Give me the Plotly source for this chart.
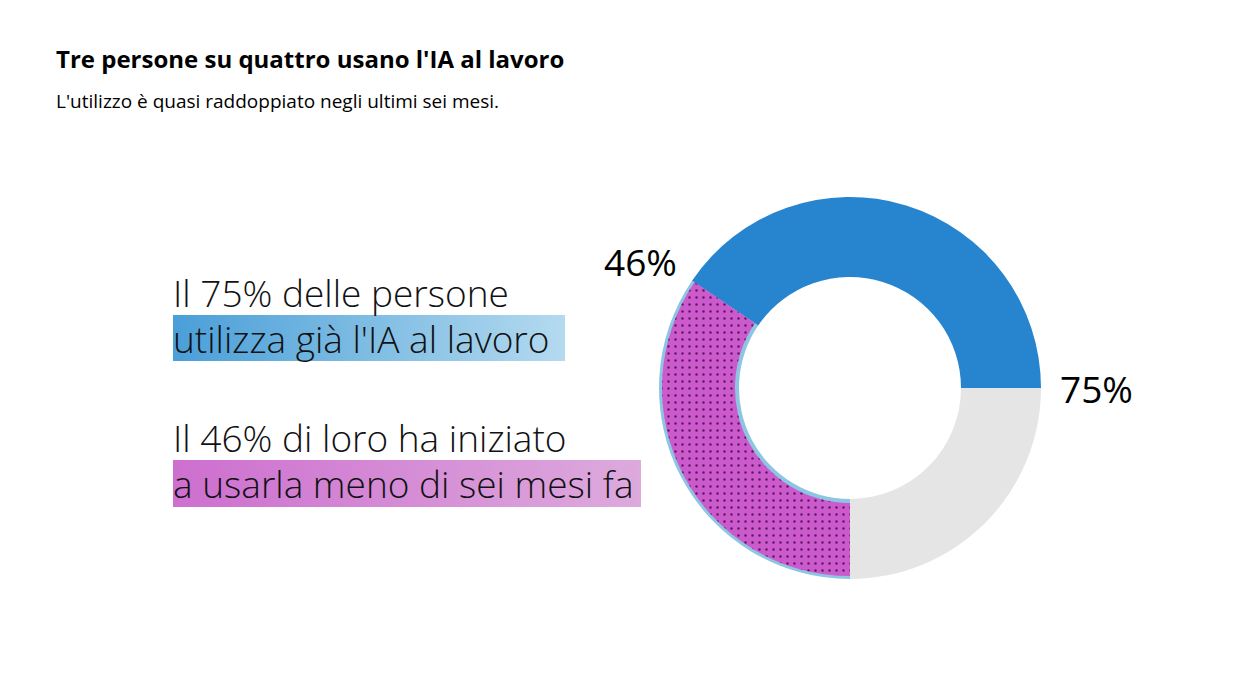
import plotly.graph_objects as go

# ---- data ----
share_using = 75          # % of people using AI at work
share_recent = 46         # % of those who started less than six months ago
slice_labels = ["Nuovi utenti", "Utenti da più tempo", "Non utenti"]
title_text = "Tre persone su quattro usano l'IA al lavoro"
subtitle_text = "L'utilizzo è quasi raddoppiato negli ultimi sei mesi."
line1a = "Il 75% delle persone"
line1b = "utilizza già l'IA al lavoro"
line2a = "Il 46% di loro ha iniziato"
line2b = "a usarla meno di sei mesi fa"

recent = share_using * share_recent / 100.0
older = share_using - recent
nonusers = 100 - share_using

W, H = 1233, 678
cx, cy = 850, 388
R_out, R_in = 191, 111
r_out, r_in = 188, 115

def dom(r):
    return dict(x=[(cx - r) / W, (cx + r) / W],
                y=[(H - cy - r) / H, (H - cy + r) / H])

fig = go.Figure()

# gradient highlight boxes (pixel coordinates on hidden axes)
def box(x0, x1, y0, y1, c0, c1):
    fig.add_trace(go.Scatter(
        x=[x0, x1, x1, x0, x0], y=[y0, y0, y1, y1, y0],
        mode="lines", line=dict(width=0), fill="toself",
        fillgradient=dict(type="horizontal", colorscale=[[0, c0], [1, c1]]),
        hoverinfo="skip", showlegend=False))

box(173, 565, 315, 361, "#4a9fd8", "#b4daef")
box(173, 641, 460, 507, "#cd6fcf", "#ddaadd")

# outer donut
fig.add_trace(go.Pie(
    values=[recent, older, nonusers], labels=slice_labels,
    sort=False, direction="clockwise", rotation=180,
    hole=R_in / R_out, domain=dom(R_out),
    marker=dict(colors=["#8cc6e3", "#2785cf", "#e5e5e5"], line=dict(width=0)),
    textinfo="none", showlegend=False, hoverinfo="label+value"))

# inset magenta slice with dot pattern
fig.add_trace(go.Pie(
    values=[recent, 100 - recent], labels=["Nuovi utenti ", "altro"],
    sort=False, direction="clockwise", rotation=180,
    hole=r_in / r_out, domain=dom(r_out),
    marker=dict(colors=["#cc5acc", "rgba(0,0,0,0)"], line=dict(width=0),
                pattern=dict(shape=[".", ""], fgcolor="#5a1a5e", bgcolor=["#cc5acc", "rgba(0,0,0,0)"],
                             size=7, solidity=0.1)),
    textinfo="none", showlegend=False, hoverinfo="skip"))

font = "Open Sans, Noto Sans, sans-serif"
ann = []
ann.append(dict(x=54, y=58, text="<b>" + title_text + "</b>", xanchor="left", yanchor="middle",
                font=dict(family=font, size=24, color="#000")))
ann.append(dict(x=54, y=101, text=subtitle_text, xanchor="left", yanchor="middle",
                font=dict(family=font, size=19, color="#000")))
for txt, y in [(line1a, 292), (line1b, 338), (line2a, 437), (line2b, 483)]:
    ann.append(dict(x=171, y=y, text=txt, xanchor="left", yanchor="middle",
                    font=dict(family=font, size=37, color="#111", weight=300)))
ann.append(dict(x=640, y=261, text=f"{share_recent}%", xanchor="center", yanchor="middle",
                font=dict(family=font, size=37, color="#000")))
ann.append(dict(x=1096, y=388, text=f"{share_using}%", xanchor="center", yanchor="middle",
                font=dict(family=font, size=37, color="#000")))
for a in ann:
    a.update(xref="x", yref="y", showarrow=False)

fig.update_layout(
    width=W, height=H, margin=dict(l=0, r=0, t=0, b=0),
    paper_bgcolor="white", plot_bgcolor="rgba(0,0,0,0)",
    xaxis=dict(range=[0, W], visible=False, fixedrange=True, domain=[0, 1]),
    yaxis=dict(range=[H, 0], visible=False, fixedrange=True, domain=[0, 1]),
    annotations=ann, showlegend=False)

fig.write_html("out.html")
